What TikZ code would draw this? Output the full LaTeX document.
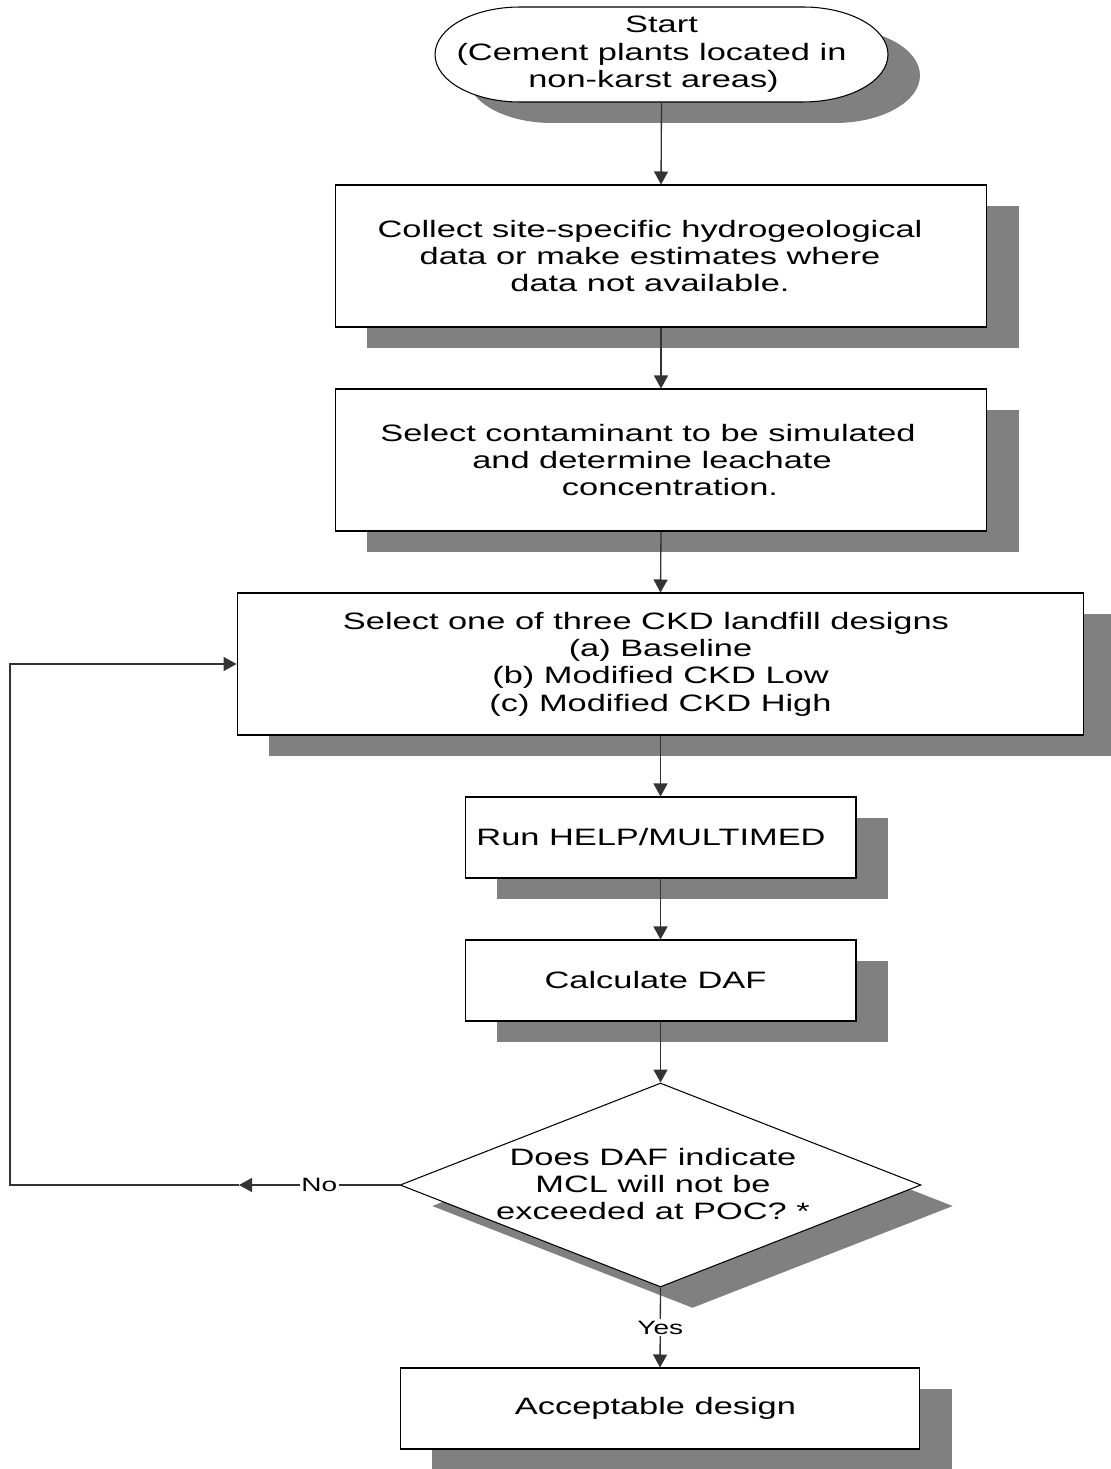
\documentclass[tikz,border=0pt]{standalone}
\usepackage{fontspec}
\setmainfont[FakeStretch=1.45]{Liberation Sans}
\usetikzlibrary{arrows.meta,shapes.geometric,shadows,calc}
\definecolor{shadowgray}{RGB}{128,128,128}
\newcommand{\rtrail}[2]{\mbox{#2\kern#1}}
\newcommand{\rlead}[2]{\mbox{\kern#1#2}}
\begin{document}
\begin{tikzpicture}[x=0.02cm,y=0.02cm,
  shad/.style={drop shadow={shadow xshift=0.64cm, shadow yshift=-0.42cm, opacity=1, fill=shadowgray}},
  maintext/.style={align=center, inner sep=0pt, font=\fontsize{13.5}{15.6}\selectfont},
  procbox/.style={maintext, draw=black, line width=0.6pt, fill=white, shad},
  conn/.style={draw=black!80, line width=0.75pt},
  arr/.style={-{Triangle[length=0.26cm,width=0.28cm]}},
  lbl/.style={fill=white, inner sep=1pt, font=\fontsize{11}{12}\selectfont}]
\useasboundingbox (0,0) rectangle (1110,-1469);
% start terminator
\path[draw=black, line width=0.6pt, fill=white, shad]
  (520,-7) -- (803,-7) arc[start angle=90, end angle=-90, x radius=1.7cm, y radius=0.95cm]
  -- (520,-102) arc[start angle=270, end angle=90, x radius=1.7cm, y radius=0.95cm] -- cycle;
\node[maintext, minimum width=9.06cm, minimum height=1.9cm] (start) at (661.5,-54.5)
  {Start\\\rtrail{0.4cm}{(Cement plants located in}\\\rtrail{0.32cm}{non-karst areas)}};
% process boxes
\node[procbox, minimum width=13.04cm, minimum height=2.84cm] (b1) at (661,-256)
  {\rtrail{0.44cm}{Collect site-specific hydrogeological}\\\rtrail{0.44cm}{data or make estimates where}\\\rtrail{0.44cm}{data not available.}};
\node[procbox, minimum width=13.04cm, minimum height=2.84cm] (b2) at (661,-460)
  {\rtrail{0.52cm}{Select contaminant to be simulated}\\\rtrail{0.36cm}{and determine leachate}\\\rlead{0.36cm}{concentration.}};
\node[procbox, minimum width=16.94cm, minimum height=2.84cm] (b3) at (660.5,-664)
  {\rtrail{0.58cm}{Select one of three CKD landfill designs}\\(a) Baseline\\(b) Modified CKD Low\\(c) Modified CKD High};
\node[procbox, minimum width=7.82cm, minimum height=1.62cm] (b4) at (660.5,-837.5)
  {\rtrail{0.38cm}{Run HELP/MULTIMED}};
\node[procbox, minimum width=7.82cm, minimum height=1.62cm] (b5) at (660.5,-980.5)
  {\rtrail{0.2cm}{Calculate DAF}};
\node[diamond, draw=black, line width=0.6pt, fill=white, shad, aspect=2.55,
  minimum width=10.42cm, minimum height=4.08cm, inner sep=0pt] (dec) at (660.5,-1185) {};
\node[maintext] (dectext) at (653,-1184) {Does DAF indicate\\MCL will not be\\exceeded at POC? *};
\node[procbox, minimum width=10.4cm, minimum height=1.62cm] (b6) at (660,-1408.5)
  {\rtrail{0.18cm}{Acceptable design}};
% connectors
\coordinate (noarr) at (239,-1185);
\coordinate (lc) at (10,-1185);
\draw[conn,arr] (start.south) -- (b1.north);
\draw[conn,arr] (b1.south) -- (b2.north);
\draw[conn,arr] (b2.south) -- (b3.north);
\draw[conn,arr] (b3.south) -- (b4.north);
\draw[conn,arr] (b4.south) -- (b5.north);
\draw[conn,arr] (b5.south) -- (dec.north);
\draw[conn,arr] (dec.south) -- node[lbl]{Yes} (b6.north);
\draw[conn,arr] (dec.west) -- node[lbl]{No} (noarr);
\draw[conn,arr] (noarr) -- (lc) |- (b3.west);
\end{tikzpicture}
\end{document}
